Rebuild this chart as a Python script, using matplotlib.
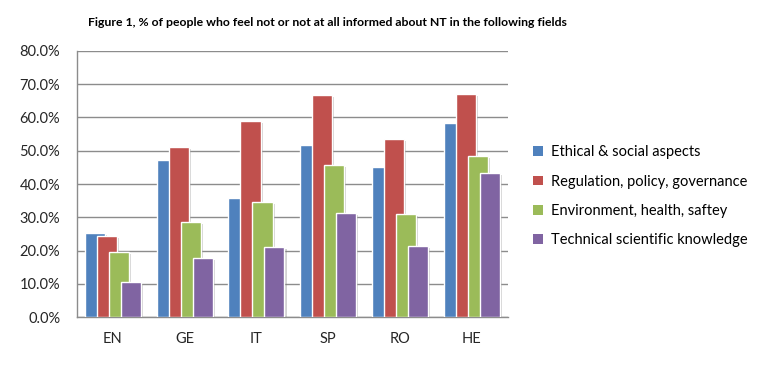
import numpy as np
import matplotlib
matplotlib.use("Agg")
import matplotlib.pyplot as plt
import matplotlib.patheffects as pe
from matplotlib.ticker import PercentFormatter

plt.rcParams['font.family'] = ['Lato', 'DejaVu Sans']

# 国別カテゴリ
countries = ["EN", "GE", "IT", "SP", "RO", "HE"]

# 系列ごとの値（%）
ethical = [25.4, 47.1, 35.9, 51.6, 45.0, 58.2]
regulation = [24.5, 51.0, 58.9, 66.7, 53.4, 67.0]
environment = [19.5, 28.7, 34.7, 45.6, 31.1, 48.3]
technical = [10.6, 17.9, 21.2, 31.4, 21.5, 43.2]

series_names = ["Ethical & social aspects", "Regulation, policy, governance",
                "Environment, health, saftey", "Technical scientific knowledge"]
colors = ["#4F81BD", "#C0504D", "#9BBB59", "#8064A2"]

fig = plt.figure(figsize=(7.79, 3.74), dpi=100)
ax = fig.add_axes([0.0988, 0.152, 0.553, 0.712])

x = np.arange(len(countries))
width = 0.28
step = 0.167
shadow = [pe.SimplePatchShadow(offset=(1.5, -1.5), shadow_rgbFace="#808080", alpha=0.35), pe.Normal()]

for i, (vals, name, col) in enumerate(zip([ethical, regulation, environment, technical], series_names, colors)):
    bars = ax.bar(x + (i - 1.5) * step, vals, width, color=col, edgecolor="white",
                  linewidth=1.0, label=name, zorder=3 + i)
    for b in bars:
        b.set_path_effects(shadow)

ax.set_xlim(-0.5, len(countries) - 0.5)
ax.set_ylim(0, 80)
ax.set_yticks(np.arange(0, 81, 10))
ax.yaxis.set_major_formatter(PercentFormatter(decimals=1))
ax.set_xticks(x)
ax.set_xticklabels(countries)
ax.tick_params(axis="both", length=0, labelsize=10.5, colors="#262626")
ax.tick_params(axis="x", pad=11)
ax.tick_params(axis="y", pad=12)
ax.grid(axis="y", color="#8c8c8c", linewidth=1.0, zorder=0)
for side in ["top", "right"]:
    ax.spines[side].set_visible(False)
for side in ["left", "bottom"]:
    ax.spines[side].set_color("#8c8c8c")
    ax.spines[side].set_linewidth(1.0)

fig.text(0.42, 0.941, "Figure 1, % of people who feel not or not at all informed about NT in the following fields",
         ha="center", va="center", fontsize=8.8, fontweight="bold")

leg = fig.legend(loc="center left", bbox_to_anchor=(0.668, 0.475), frameon=False,
                 fontsize=10.5, handlelength=0.65, handleheight=0.65, handletextpad=0.55,
                 labelspacing=1.05)
for h in leg.legend_handles:
    h.set_edgecolor("none")
    h.set_path_effects([])

fig.savefig("out.png", dpi=100)
